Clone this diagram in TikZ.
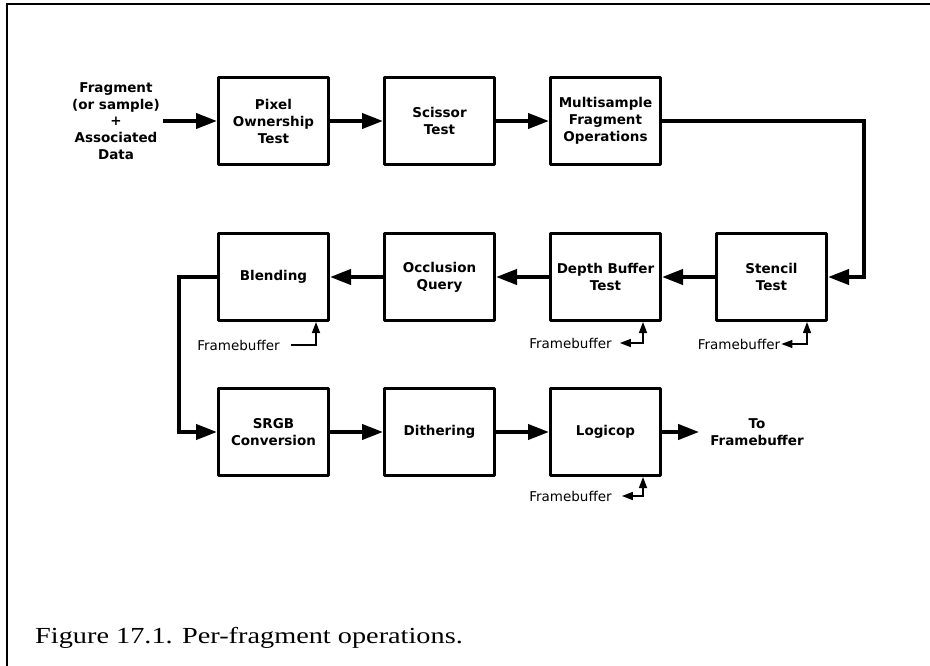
\documentclass[tikz,border=0pt]{standalone}
\usepackage{fontspec}
\setmainfont{Liberation Serif}
\setsansfont{DejaVu Sans}
\usetikzlibrary{positioning,arrows.meta}

\begin{document}
\begin{tikzpicture}[x=1pt,y=-1pt,node distance=53pt]
            \tikzset{stage/.style={draw,line width=3pt,line join=round,minimum width=110pt,minimum height=87pt,
                       inner sep=0pt,align=center,font=\sffamily\bfseries\fontsize{13.5}{17}\selectfont},
                     label/.style={align=center,font=\sffamily\bfseries\fontsize{13.5}{16.7}\selectfont},
                     fb/.style={inner sep=0pt,font=\sffamily\fontsize{13.5}{16}\selectfont},
                     flow/.style={line width=4pt,-{Triangle[length=21pt,width=15pt]}},
                     fbline/.style={line width=1.4pt,-{Triangle[length=11pt,width=8pt]}},
                     fbboth/.style={line width=1.4pt,{Triangle[length=11pt,width=8pt]}-{Triangle[length=11pt,width=8pt]}}}
            \useasboundingbox (0,0) rectangle (930,666);
            \draw[line width=1.5pt] (7,666) -- (7,4) -- (930,4);
            % first row
            \node[label] (input) at (116,121) {Fragment\\(or sample)\\+\\Associated\\Data};
            \node[stage] (pixel) at (273.5,121) {Pixel\\Ownership\\Test};
            \node[stage,right=of pixel] (scissor) {Scissor\\Test};
            \node[stage,right=of scissor] (multi) {Multisample\\Fragment\\Operations};
            % second row
            \node[stage] (blend) at (273.5,277) {Blending};
            \node[stage,right=of blend] (occl) {Occlusion\\Query};
            \node[stage,right=of occl] (depth) {Depth Buffer\\Test};
            \node[stage,right=of depth] (stencil) {Stencil\\Test};
            % third row
            \node[stage] (srgb) at (273.5,432) {SRGB\\Conversion};
            \node[stage,right=of srgb] (dither) {Dithering};
            \node[stage,right=of dither] (logic) {Logicop};
            \node[label,inner sep=0pt] (tofb) at (757,432) {To\\Framebuffer};
            % framebuffer reads
            \node[fb] (fbblend) at (238.5,345) {Framebuffer};
            \node[fb] (fbdepth) at (570.5,343) {Framebuffer};
            \node[fb] (fbstencil) at (739,344) {Framebuffer};
            \node[fb] (fblogic) at (570.5,496) {Framebuffer};

            \draw[flow] (input) -- (pixel);
            \draw[flow] (pixel) -- (scissor);
            \draw[flow] (scissor) -- (multi);
            \draw[flow] (multi.east) -- ++(202,0) |- (stencil.east);
            \draw[flow] (stencil) -- (depth);
            \draw[flow] (depth) -- (occl);
            \draw[flow] (occl) -- (blend);
            \draw[flow] (blend.west) -- ++(-38.5,0) |- (srgb.west);
            \draw[flow] (srgb) -- (dither);
            \draw[flow] (dither) -- (logic);
            \draw[flow,shorten >=11pt] (logic) -- (tofb);

            \draw[fbline,shorten <=11pt] (fbblend.east) -| ([xshift=-14pt]blend.south east);
            \draw[fbboth,shorten <=8pt] (fbdepth.east) -| ([xshift=-19pt]depth.south east);
            \draw[fbboth,shorten <=1pt] (fbstencil.east) -| ([xshift=-21pt]stencil.south east);
            \draw[fbboth,shorten <=10pt] (fblogic.east) -| ([xshift=-19pt]logic.south east);

            \node[anchor=base west,inner sep=0pt,font=\rmfamily\fontsize{23}{28}\selectfont] (caption) at (35,643)
                 {\scalebox{1.23}[1]{Figure 17.1. Per-fragment operations.}};
\end{tikzpicture}
\end{document}
